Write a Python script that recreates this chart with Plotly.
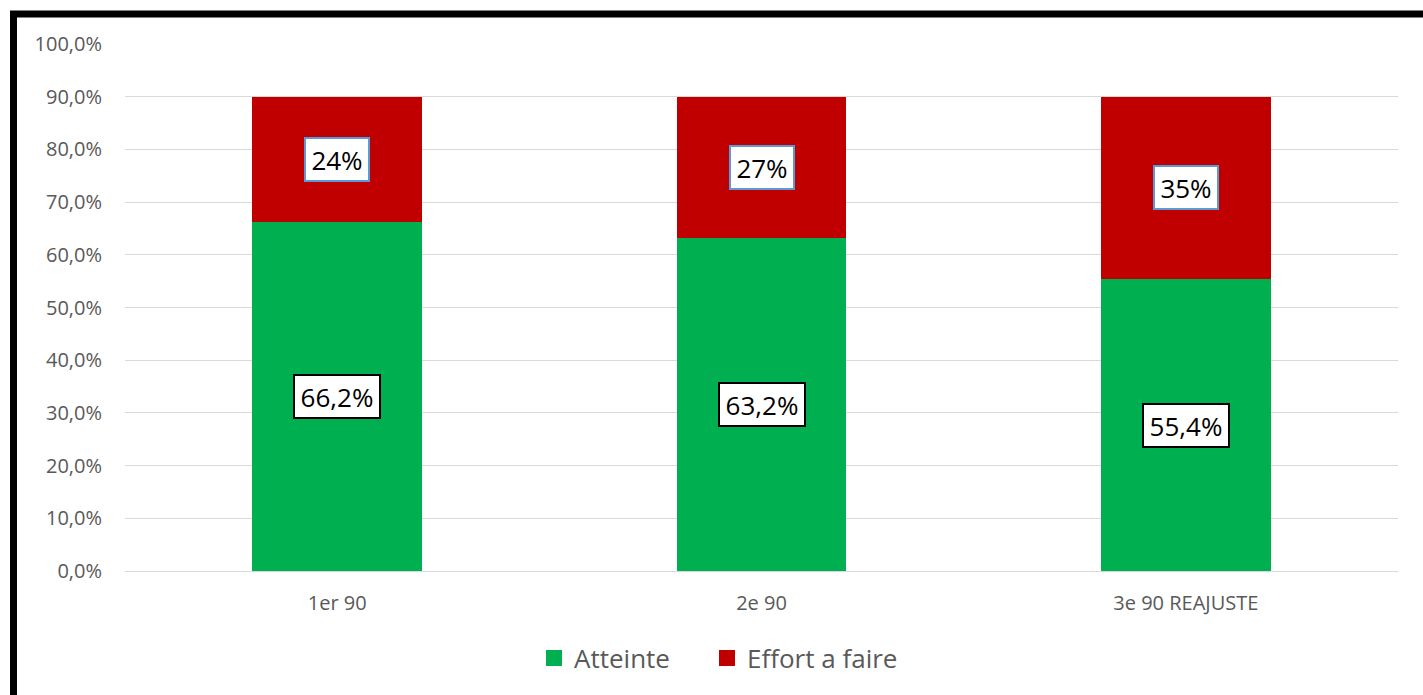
import plotly.graph_objects as go

# Chart data (percent)
categories = ["1er 90", "2e 90", "3e 90 REAJUSTE"]
atteinte = [66.2, 63.2, 55.4]
effort = [23.8, 26.8, 34.6]
y_ticks = [0, 10, 20, 30, 40, 50, 60, 70, 80, 90, 100]

GREEN = "#00b050"
RED = "#c00000"
GREY = "#595959"
FONT = "Open Sans"

# Plot-area geometry in pixels (used to place the outer frame and legend)
W, H = 1423, 695
ML, MR, MT, MB = 125, 25, 44, 124
PW, PH = W - ML - MR, H - MT - MB


def px_to_paper_x(px):
    return (px - ML) / PW


def px_to_paper_y(py):
    return (H - MB - py) / PH


def pct(v, decimals):
    return f"{v:.{decimals}f}".replace(".", ",") + "%"


fig = go.Figure()
fig.add_trace(go.Bar(x=categories, y=atteinte, name="Atteinte",
                     marker=dict(color=GREEN, line=dict(width=0)),
                     hoverinfo="skip", showlegend=False))
fig.add_trace(go.Bar(x=categories, y=effort, name="Effort a faire",
                     marker=dict(color=RED, line=dict(width=0)),
                     hoverinfo="skip", showlegend=False))

# Legend keys with larger square swatches, one legend box per series
for name, color, leg in [("Atteinte", GREEN, "legend"),
                         ("Effort a faire", RED, "legend2")]:
    fig.add_trace(go.Scatter(x=[None], y=[None], mode="markers", name=name,
                             marker=dict(symbol="square", size=17, color=color),
                             hoverinfo="skip", showlegend=True, legend=leg))

annotations = []
for cat, a, e in zip(categories, atteinte, effort):
    annotations.append(dict(
        x=cat, y=a / 2, xref="x", yref="y",
        text=pct(a, 1), width=78, height=35,
        showarrow=False, font=dict(family=FONT, size=26, color="black"),
        bgcolor="white", bordercolor="black", borderwidth=2, borderpad=3,
    ))
    annotations.append(dict(
        x=cat, y=a + e / 2, xref="x", yref="y",
        text=pct(e, 0), width=56, height=35,
        showarrow=False, font=dict(family=FONT, size=26, color="black"),
        bgcolor="white", bordercolor="#5b9bd5", borderwidth=2, borderpad=3,
    ))

legend_style = dict(orientation="h", xanchor="left",
                    y=px_to_paper_y(658), yanchor="middle",
                    font=dict(family=FONT, size=26, color=GREY),
                    itemwidth=30, bgcolor="rgba(0,0,0,0)")

fig.update_layout(
    width=W, height=H,
    margin=dict(l=ML, r=MR, t=MT, b=MB, pad=0),
    barmode="stack", bargap=0.6,
    paper_bgcolor="white", plot_bgcolor="white",
    font=dict(family=FONT, color=GREY),
    showlegend=True,
    legend=dict(x=px_to_paper_x(534), **legend_style),
    legend2=dict(x=px_to_paper_x(707), **legend_style),
    annotations=annotations,
    shapes=[dict(type="rect", xref="paper", yref="paper",
                 x0=px_to_paper_x(13.5), x1=px_to_paper_x(1445),
                 y0=px_to_paper_y(14), y1=px_to_paper_y(720),
                 line=dict(color="black", width=7), layer="above")],
)
fig.update_xaxes(showgrid=False, showline=False, ticks="",
                 tickfont=dict(family=FONT, size=20, color=GREY),
                 ticklabelstandoff=18)
fig.update_yaxes(range=[0, 100], tickvals=y_ticks,
                 ticktext=[pct(v, 1) for v in y_ticks],
                 showgrid=True, gridcolor="#d9d9d9",
                 gridwidth=1, zeroline=True, zerolinecolor="#d9d9d9",
                 zerolinewidth=1, showline=False, ticks="",
                 tickfont=dict(family=FONT, size=20, color=GREY),
                 ticklabelstandoff=22)

fig.write_html("out.html")
